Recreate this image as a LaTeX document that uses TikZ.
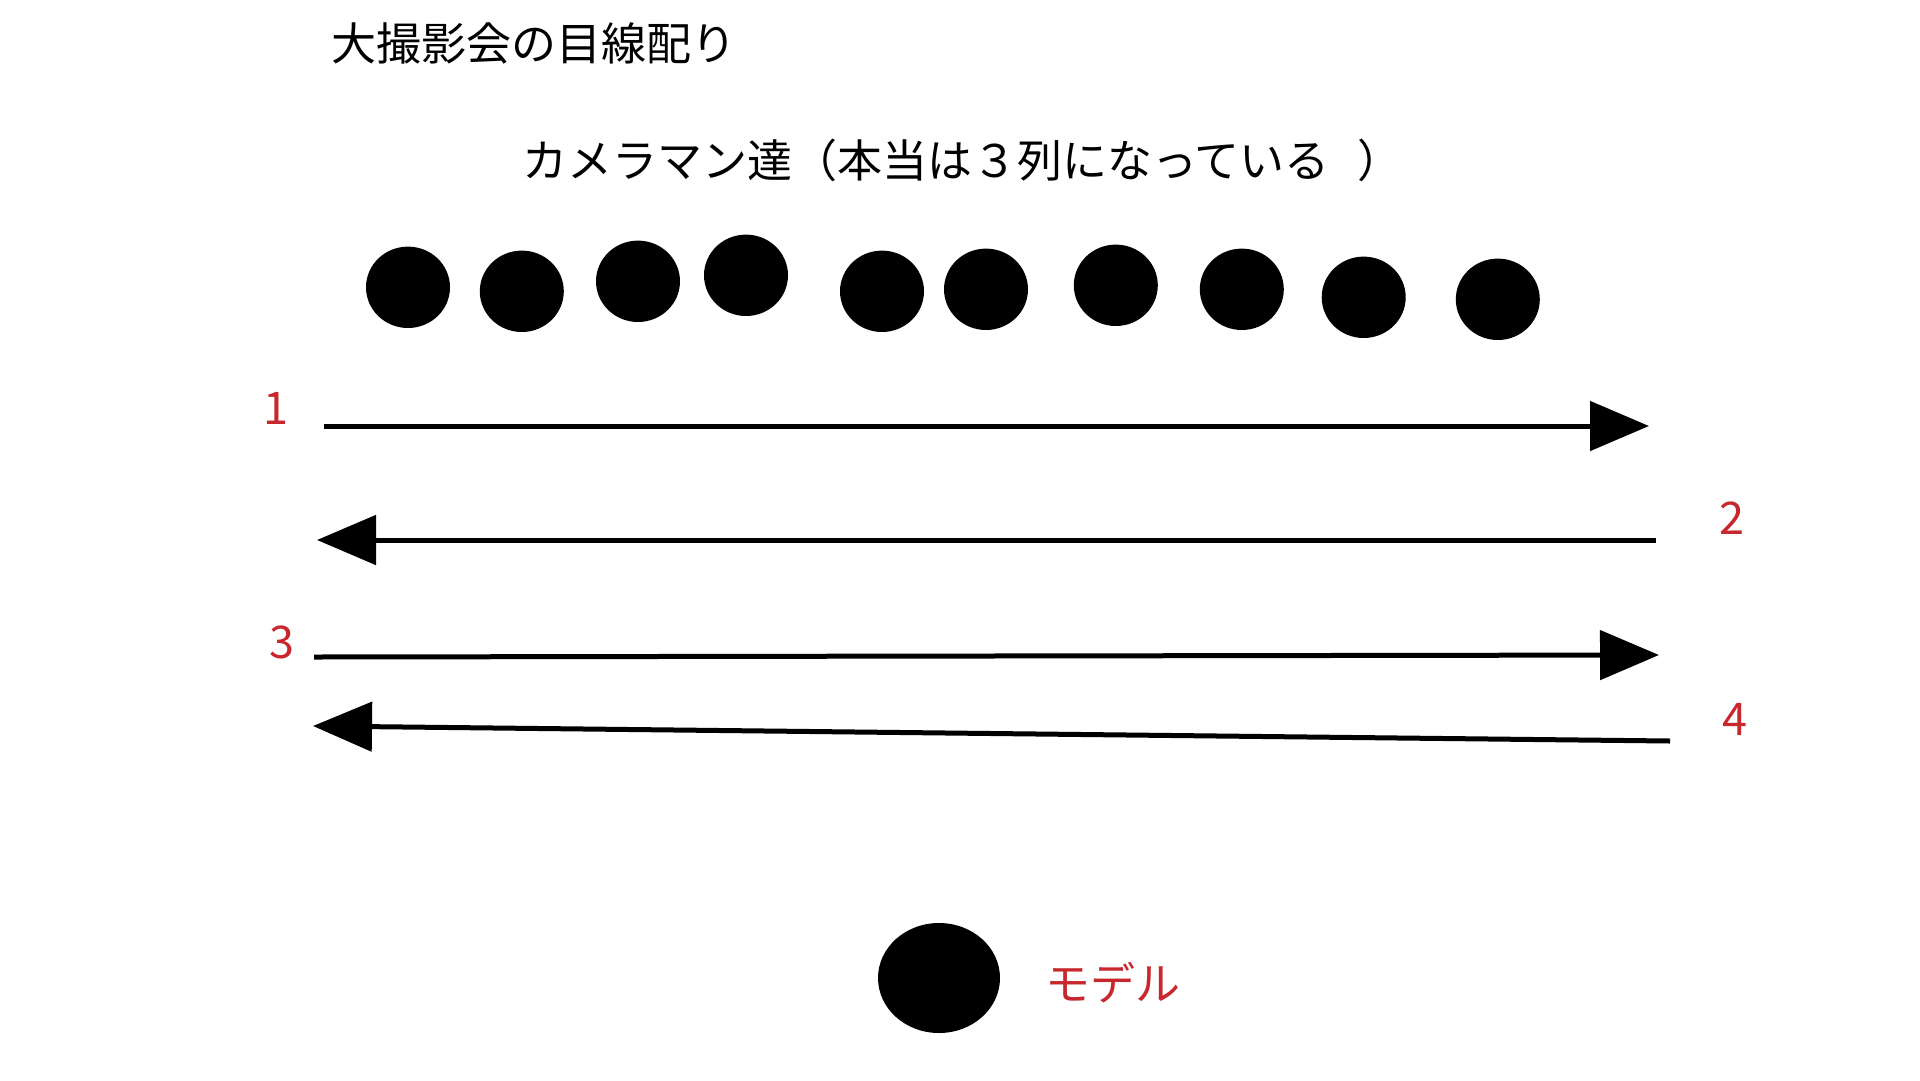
\documentclass[tikz,border=0pt]{standalone}
\usepackage{fontspec}
\setmainfont{Noto Sans CJK JP}
\usetikzlibrary{arrows.meta,shapes.geometric}
\definecolor{labelred}{RGB}{200,40,45}
\begin{document}
\begin{tikzpicture}[x=1pt,y=-1pt,
  person/.style={ellipse,fill=black,inner sep=0pt,minimum width=84pt,minimum height=81.4pt},
  model/.style={ellipse,fill=black,inner sep=0pt,minimum width=122pt,minimum height=110pt},
  txt/.style={inner sep=0pt,font=\fontsize{45}{54}\selectfont},
  redtxt/.style={txt,text=labelred},
  gaze/.style={line width=5pt,-{Triangle[length=59pt,width=49pt]}}]
\useasboundingbox[fill=white] (0,0) rectangle (1920,1080);
\node[txt,anchor=west] (title) at (331,43) {大撮影会の目線配り};
\node[txt,anchor=west] (sub) at (522,160) {カメラマン達（本当は３列になっている\kern28pt）};
\node[person] (p1) at (408,287.3) {};
\node[person] (p2) at (521.8,291.3) {};
\node[person] (p3) at (638,281.3) {};
\node[person] (p4) at (746,275.3) {};
\node[person] (p5) at (882,291.3) {};
\node[person] (p6) at (986,289.3) {};
\node[person] (p7) at (1115.8,285.3) {};
\node[person] (p8) at (1241.8,289.3) {};
\node[person] (p9) at (1363.7,297.3) {};
\node[person] (p10) at (1497.8,299.3) {};
\coordinate (a1s) at (324,426);
\coordinate (a1e) at (1649,426);
\coordinate (a2s) at (1656,540);
\coordinate (a2e) at (317,540);
\coordinate (a3s) at (314,657);
\coordinate (a3e) at (1659,655);
\coordinate (a4s) at (1670,741);
\coordinate (a4e) at (313,726);
\draw[gaze] (a1s) -- (a1e);
\draw[gaze] (a2s) -- (a2e);
\draw[gaze] (a3s) -- (a3e);
\draw[gaze] (a4s) -- (a4e);
\node[redtxt] (n1) at (276,408) {1};
\node[redtxt] (n2) at (1732,518) {2};
\node[redtxt] (n3) at (282,642) {3};
\node[redtxt] (n4) at (1735,719) {4};
\node[model] (m) at (939,978) {};
\node[redtxt,anchor=west] (mlabel) at (1045,983) {モデル};
\end{tikzpicture}
\end{document}
